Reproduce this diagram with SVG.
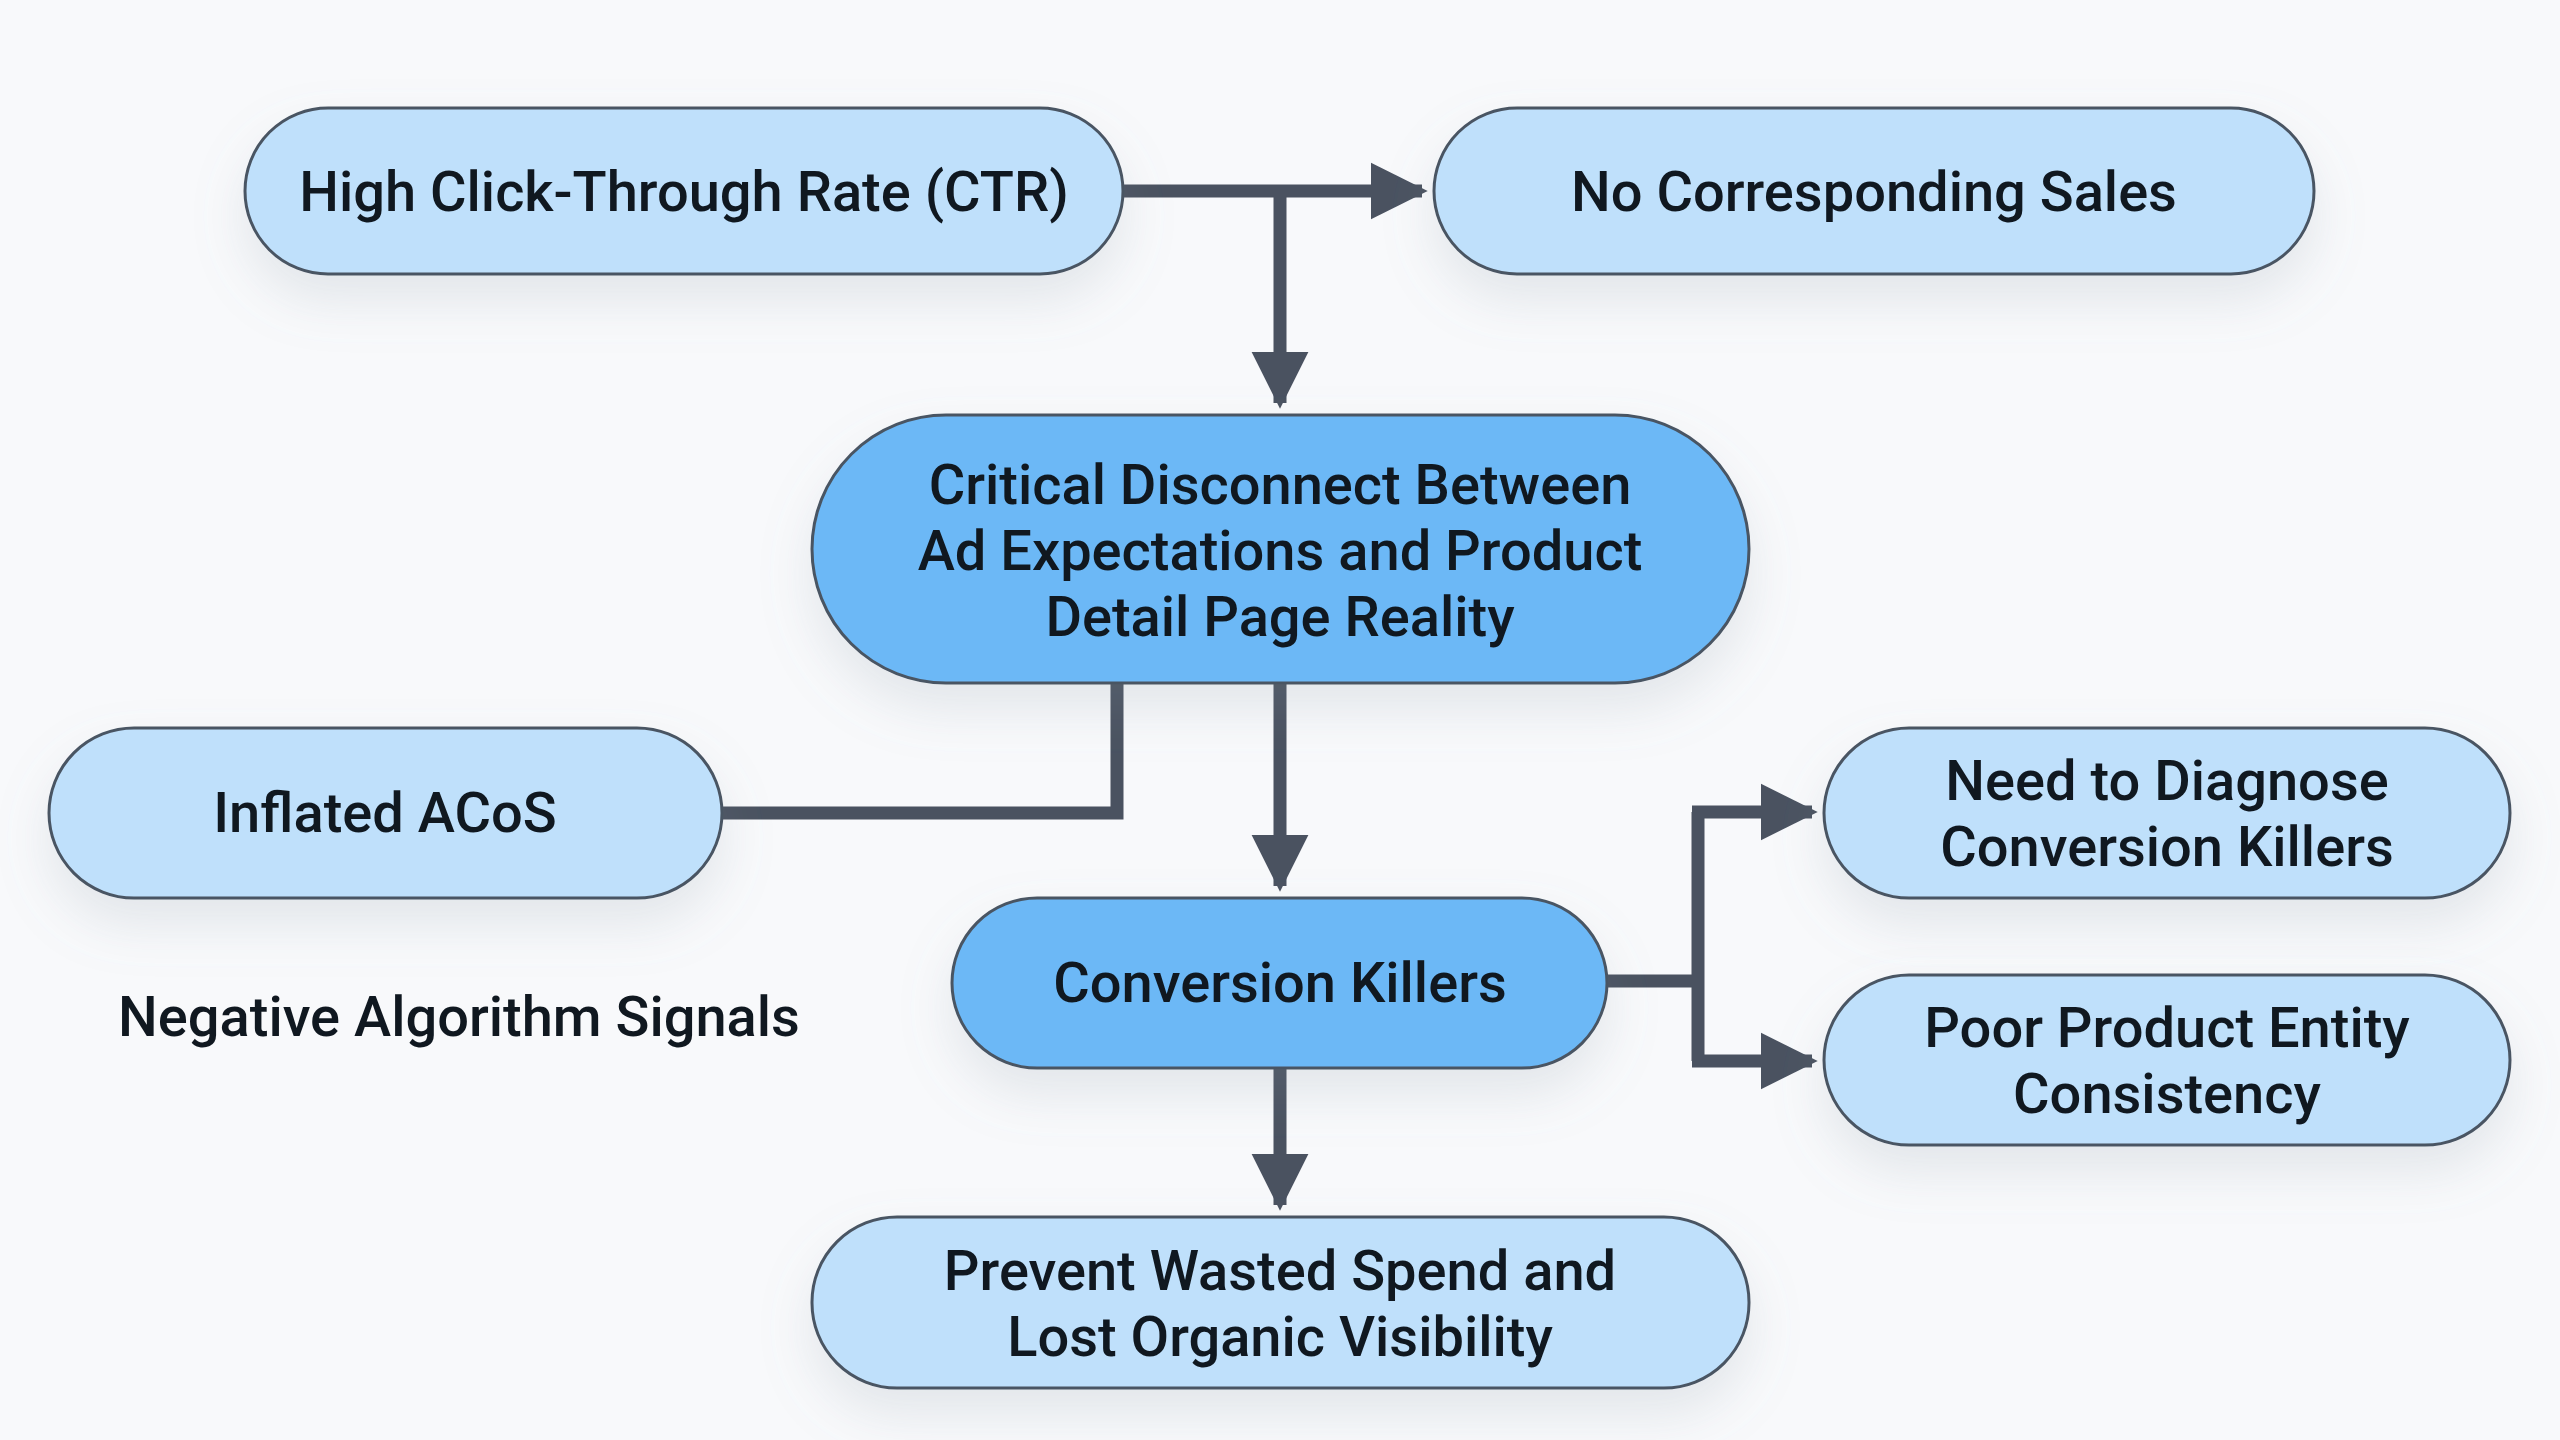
<svg xmlns="http://www.w3.org/2000/svg" width="2560" height="1440" viewBox="0 0 2560 1440">
<defs>
<filter id="sh" x="-20%" y="-40%" width="140%" height="200%"><feDropShadow dx="0" dy="25" stdDeviation="25" flood-color="#8090a0" flood-opacity="0.18"/></filter>
<marker id="ah" viewBox="0 0 10 10" refX="9" refY="5" markerWidth="4.4" markerHeight="4.4" markerUnits="strokeWidth" orient="auto"><path d="M0,0 L10,5 L0,10 Z" fill="#4a5260"/></marker>
</defs>
<style>
.n{fill:#bfe0fb;stroke:#4a5563;stroke-width:3;filter:url(#sh)}
.d{fill:#6cb8f6}
text{font-family:Roboto,"Liberation Sans",sans-serif;font-weight:500;font-size:56px;fill:#101820;text-anchor:middle}
.c{fill:none;stroke:#4a5260;stroke-width:13}
</style>
<rect width="2560" height="1440" fill="#f8f9fb"/>
<g id="connectors">
<path class="c" d="M1123,191 H1422" marker-end="url(#ah)"/>
<path class="c" d="M1280,191 V403" marker-end="url(#ah)"/>
<path class="c" d="M1117,683 V813 H722"/>
<path class="c" d="M1280,683 V886" marker-end="url(#ah)"/>
<path class="c" d="M1607,981 H1698"/>
<path class="c" d="M1698,812 V1061"/>
<path class="c" d="M1692,812 H1812" marker-end="url(#ah)"/>
<path class="c" d="M1692,1061 H1812" marker-end="url(#ah)"/>
<path class="c" d="M1280,1068 V1205" marker-end="url(#ah)"/>
</g>
<g id="ctr"><rect class="n" x="245" y="108" width="878" height="166" rx="83"/><text x="684" y="211">High Click-Through Rate (CTR)</text></g>
<g id="nosales"><rect class="n" x="1434" y="108" width="880" height="166" rx="83"/><text x="1874" y="211">No Corresponding Sales</text></g>
<g id="critical"><rect class="n d" x="812" y="415" width="937" height="268" rx="134"/><text x="1280" y="504">Critical Disconnect Between</text><text x="1280" y="570">Ad Expectations and Product</text><text x="1280" y="636">Detail Page Reality</text></g>
<g id="acos"><rect class="n" x="49" y="728" width="673" height="170" rx="85"/><text x="385" y="832">Inflated ACoS</text></g>
<text x="459" y="1036">Negative Algorithm Signals</text>
<g id="killers"><rect class="n d" x="952" y="898" width="655" height="170" rx="85"/><text x="1280" y="1002">Conversion Killers</text></g>
<g id="diagnose"><rect class="n" x="1824" y="728" width="686" height="170" rx="85"/><text x="2167" y="800">Need to Diagnose</text><text x="2167" y="866">Conversion Killers</text></g>
<g id="entity"><rect class="n" x="1824" y="975" width="686" height="170" rx="85"/><text x="2167" y="1047">Poor Product Entity</text><text x="2167" y="1113">Consistency</text></g>
<g id="prevent"><rect class="n" x="812" y="1217" width="937" height="171" rx="85"/><text x="1280" y="1290">Prevent Wasted Spend and</text><text x="1280" y="1356">Lost Organic Visibility</text></g>
</svg>
